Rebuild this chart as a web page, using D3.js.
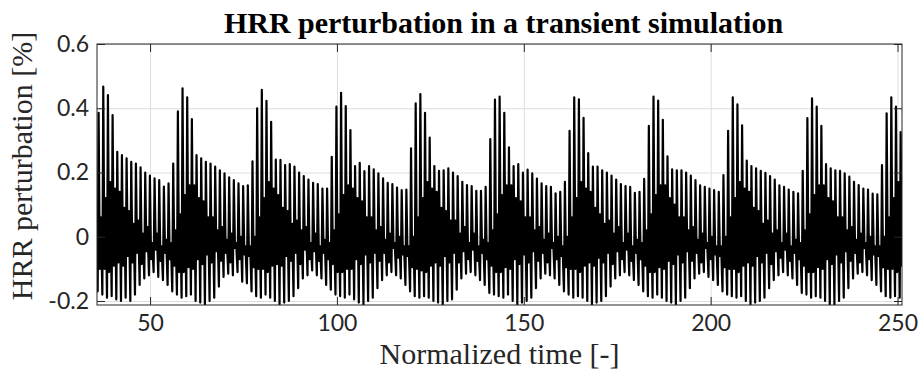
<!DOCTYPE html>
<html>
<head>
<meta charset="utf-8">
<script src="https://cdn.jsdelivr.net/npm/d3@7"></script>
<style>
  body { margin: 0; background: #fff; }
  svg { display: block; }
</style>
</head>
<body>
<svg id="chart" width="920" height="373"></svg>
<script>
// fast cycle timing (one entry per oscillation below)
const firstPeak = 36.23;
const cyclePeriod = 1.2477;
const startValue = 0.0;

// peak of every fast oscillation
const peakHi = [
  0.386,
  0.467, 0.441, 0.379, 0.264, 0.254, 0.244, 0.233, 0.228, 0.216, 0.200, 0.190, 0.182, 0.176, 0.156,
  0.166, 0.228, 0.390,
  0.462, 0.434, 0.366, 0.254, 0.244, 0.233, 0.228, 0.218, 0.207, 0.197, 0.185, 0.176, 0.166, 0.158,
  0.160, 0.235, 0.400,
  0.457, 0.423, 0.358, 0.240, 0.239, 0.223, 0.226, 0.218, 0.200, 0.189, 0.178, 0.168, 0.164, 0.150,
  0.150, 0.249, 0.405,
  0.448, 0.407, 0.332, 0.220, 0.230, 0.204, 0.220, 0.210, 0.197, 0.182, 0.168, 0.164, 0.153, 0.145,
  0.147, 0.275, 0.415,
  0.444, 0.386, 0.309, 0.220, 0.205, 0.207, 0.213, 0.200, 0.189, 0.171, 0.161, 0.158, 0.143, 0.143,
  0.155, 0.304, 0.427,
  0.436, 0.386, 0.278, 0.220, 0.226, 0.200, 0.209, 0.197, 0.181, 0.166, 0.158, 0.155, 0.135,
  0.140, 0.171, 0.330,
  0.434, 0.428, 0.370, 0.260, 0.218, 0.218, 0.207, 0.200, 0.190, 0.178, 0.164, 0.158, 0.155, 0.137,
  0.140, 0.180, 0.345,
  0.436, 0.424, 0.364, 0.250, 0.210, 0.207, 0.207, 0.200, 0.190, 0.176, 0.160, 0.155, 0.150, 0.145,
  0.140, 0.192, 0.330,
  0.434, 0.412, 0.347, 0.237, 0.220, 0.213, 0.205, 0.199, 0.189, 0.178, 0.160, 0.155, 0.147, 0.140,
  0.135, 0.205, 0.369,
  0.431, 0.405, 0.345, 0.226, 0.213, 0.207, 0.205, 0.197, 0.187, 0.171, 0.161, 0.150, 0.147, 0.134,
  0.132, 0.223, 0.384,
  0.434, 0.405, 0.326
];

// trough of every fast oscillation
const troughLo = [
  -0.17,
  -0.18, -0.19, -0.185, -0.195, -0.2, -0.19, -0.2, -0.18, -0.15, -0.13, -0.12, -0.11, -0.125, -0.135,
  -0.15, -0.17, -0.18,
  -0.19, -0.185, -0.18, -0.2, -0.205, -0.21, -0.2, -0.19, -0.155, -0.125, -0.115, -0.12, -0.11, -0.14,
  -0.145, -0.17, -0.185,
  -0.19, -0.18, -0.19, -0.2, -0.21, -0.205, -0.2, -0.185, -0.16, -0.13, -0.12, -0.105, -0.12, -0.13,
  -0.15, -0.165, -0.18,
  -0.185, -0.19, -0.18, -0.195, -0.205, -0.21, -0.2, -0.19, -0.16, -0.135, -0.12, -0.11, -0.12, -0.13,
  -0.15, -0.17, -0.185,
  -0.19, -0.185, -0.19, -0.2, -0.205, -0.21, -0.2, -0.195, -0.165, -0.13, -0.115, -0.11, -0.12, -0.135,
  -0.15, -0.175, -0.18,
  -0.185, -0.19, -0.18, -0.2, -0.21, -0.205, -0.2, -0.19, -0.16, -0.13, -0.115, -0.12, -0.13,
  -0.15, -0.17, -0.18,
  -0.19, -0.185, -0.19, -0.2, -0.21, -0.205, -0.2, -0.185, -0.155, -0.13, -0.12, -0.11, -0.12, -0.135,
  -0.15, -0.17, -0.185,
  -0.19, -0.18, -0.19, -0.2, -0.205, -0.21, -0.2, -0.19, -0.16, -0.13, -0.115, -0.11, -0.125, -0.135,
  -0.15, -0.17, -0.18,
  -0.185, -0.19, -0.185, -0.2, -0.21, -0.205, -0.2, -0.19, -0.16, -0.135, -0.12, -0.11, -0.12, -0.13,
  -0.15, -0.175, -0.18,
  -0.19, -0.185, -0.19, -0.2, -0.21, -0.21, -0.2, -0.19, -0.16, -0.13, -0.115, -0.11, -0.12, -0.135,
  -0.15, -0.17, -0.185,
  -0.19, -0.185, -0.19
];

// low and high of the dense inner wiggle in each oscillation
const bandLow = [
  -0.10,
  -0.10, -0.11, -0.09, -0.08, -0.09, -0.06, -0.08, -0.05, -0.085, -0.045, -0.07, -0.04, -0.075, -0.05,
  -0.07, -0.09, -0.11,
  -0.11, -0.095, -0.10, -0.07, -0.085, -0.055, -0.08, -0.045, -0.075, -0.05, -0.08, -0.035, -0.07, -0.055,
  -0.06, -0.095, -0.10,
  -0.10, -0.11, -0.09, -0.085, -0.09, -0.06, -0.075, -0.05, -0.085, -0.04, -0.07, -0.045, -0.075, -0.05,
  -0.07, -0.085, -0.11,
  -0.11, -0.10, -0.10, -0.07, -0.085, -0.055, -0.08, -0.05, -0.075, -0.05, -0.08, -0.035, -0.065, -0.055,
  -0.06, -0.095, -0.10,
  -0.105, -0.11, -0.09, -0.08, -0.09, -0.06, -0.08, -0.05, -0.08, -0.045, -0.07, -0.04, -0.075, -0.05,
  -0.07, -0.09, -0.11,
  -0.11, -0.095, -0.10, -0.07, -0.085, -0.055, -0.08, -0.045, -0.075, -0.05, -0.08, -0.035, -0.07,
  -0.06, -0.095, -0.10,
  -0.10, -0.11, -0.09, -0.08, -0.09, -0.065, -0.08, -0.05, -0.085, -0.045, -0.07, -0.04, -0.075, -0.05,
  -0.07, -0.09, -0.11,
  -0.11, -0.095, -0.10, -0.075, -0.085, -0.055, -0.08, -0.045, -0.075, -0.05, -0.08, -0.035, -0.07, -0.055,
  -0.06, -0.095, -0.10,
  -0.10, -0.11, -0.09, -0.08, -0.09, -0.06, -0.08, -0.05, -0.085, -0.045, -0.065, -0.04, -0.075, -0.05,
  -0.07, -0.09, -0.11,
  -0.11, -0.095, -0.10, -0.07, -0.085, -0.055, -0.08, -0.045, -0.075, -0.05, -0.08, -0.035, -0.07, -0.055,
  -0.06, -0.095, -0.10,
  -0.10, -0.11, -0.09
];
const bandHigh = [
  0.06,
  0.12, 0.17, 0.15, 0.14, 0.09, 0.08, 0.04, 0.05, 0.01, 0.03, -0.02, 0.01, -0.03, -0.01,
  -0.02, 0.02, 0.07,
  0.13, 0.16, 0.16, 0.12, 0.11, 0.06, 0.06, 0.02, 0.03, -0.01, 0.01, -0.02, 0.0, -0.03,
  -0.03, 0.0, 0.06,
  0.12, 0.17, 0.15, 0.13, 0.09, 0.08, 0.04, 0.05, 0.02, 0.03, -0.02, 0.01, -0.03, -0.01,
  -0.02, 0.02, 0.07,
  0.13, 0.16, 0.15, 0.12, 0.11, 0.06, 0.06, 0.02, 0.03, -0.01, 0.01, -0.02, 0.0, -0.03,
  -0.03, 0.0, 0.06,
  0.12, 0.17, 0.15, 0.14, 0.09, 0.08, 0.05, 0.05, 0.01, 0.03, -0.02, 0.01, -0.03, -0.01,
  -0.02, 0.02, 0.07,
  0.13, 0.16, 0.16, 0.12, 0.11, 0.06, 0.06, 0.02, 0.03, -0.01, 0.01, -0.02, 0.0,
  -0.03, 0.0, 0.06,
  0.12, 0.17, 0.15, 0.14, 0.09, 0.07, 0.04, 0.05, 0.01, 0.03, -0.02, 0.01, -0.03, -0.01,
  -0.02, 0.02, 0.07,
  0.13, 0.16, 0.16, 0.12, 0.10, 0.06, 0.06, 0.02, 0.03, -0.01, 0.01, -0.02, 0.0, -0.03,
  -0.03, 0.0, 0.06,
  0.12, 0.17, 0.15, 0.14, 0.09, 0.08, 0.04, 0.05, 0.01, 0.02, -0.02, 0.01, -0.03, -0.01,
  -0.02, 0.02, 0.07,
  0.13, 0.16, 0.16, 0.12, 0.11, 0.06, 0.06, 0.02, 0.03, -0.01, 0.01, -0.02, 0.0, -0.03,
  -0.03, 0.0, 0.06,
  0.12, 0.17, 0.15
];

const xTicks = [50, 100, 150, 200, 250];
const yTicks = [-0.2, 0, 0.2, 0.4, 0.6];
const yTickLabels = ["-0.2", "0", "0.2", "0.4", "0.6"];
const xRange = [35.8, 251.2];
const yRange = [-0.2125, 0.6];

const titleText = "HRR perturbation in a transient simulation";
const xLabel = "Normalized time [-]";
const yLabel = "HRR perturbation [%]";

// layout
const margin = {left: 97, top: 44, right: 18, bottom: 68};
const W = 920, H = 373;
const plotW = W - margin.left - margin.right;
const plotH = H - margin.top - margin.bottom;

const xScale = d3.scaleLinear().domain(xRange).range([0, plotW]);
const yScale = d3.scaleLinear().domain(yRange).range([plotH, 0]);

// build the series: each oscillation is trough -> peak -> inner low -> inner high
const series = [{t: xRange[0], v: startValue}];
peakHi.forEach((hi, k) => {
  const tp = firstPeak + k * cyclePeriod;
  series.push({t: tp - 0.2 * cyclePeriod, v: troughLo[k]});
  series.push({t: tp, v: hi});
  series.push({t: tp + 0.25 * cyclePeriod, v: bandLow[k]});
  series.push({t: tp + 0.5 * cyclePeriod, v: bandHigh[k]});
});

const svg = d3.select('#chart');
svg.append('rect').attr('width', W).attr('height', H).attr('fill', '#fff');

const g = svg.append('g').attr('transform', `translate(${margin.left},${margin.top})`);

g.append('defs').append('clipPath').attr('id', 'clip')
  .append('rect').attr('width', plotW).attr('height', plotH);

// grid
g.append('g')
  .attr('transform', `translate(0,${plotH})`)
  .call(d3.axisBottom(xScale).tickValues(xTicks).tickSize(-plotH).tickFormat(''))
  .call(a => a.select('.domain').remove())
  .selectAll('line').attr('class', 'grid').attr('stroke', '#dedede');
g.append('g')
  .call(d3.axisLeft(yScale).tickValues(yTicks).tickSize(-plotW).tickFormat(''))
  .call(a => a.select('.domain').remove())
  .selectAll('line').attr('class', 'grid').attr('stroke', '#dedede');

// signal
const line = d3.line().x(d => xScale(d.t)).y(d => yScale(d.v));
g.append('path')
  .datum(series)
  .attr('clip-path', 'url(#clip)')
  .attr('fill', 'none')
  .attr('stroke', '#000')
  .attr('stroke-width', 2.2)
  .attr('stroke-linejoin', 'round')
  .attr('d', line);

// axes with inward ticks on all four sides
const tickFont = 'Lato, "Open Sans", sans-serif';
const bottom = g.append('g')
  .attr('transform', `translate(0,${plotH})`)
  .call(d3.axisBottom(xScale).tickValues(xTicks).tickSizeInner(-8).tickSizeOuter(0).tickPadding(10));
const left = g.append('g')
  .call(d3.axisLeft(yScale).tickValues(yTicks).tickSizeInner(-8).tickSizeOuter(0).tickPadding(8)
    .tickFormat((d, i) => yTickLabels[i]));
g.append('g')
  .call(d3.axisTop(xScale).tickValues(xTicks).tickSizeInner(-8).tickSizeOuter(0).tickFormat(''));
g.append('g')
  .attr('transform', `translate(${plotW},0)`)
  .call(d3.axisRight(yScale).tickValues(yTicks).tickSizeInner(-8).tickSizeOuter(0).tickFormat(''));

g.selectAll('.domain').remove();
g.selectAll('.tick line:not(.grid)').attr('stroke', '#262626');
[bottom, left].forEach(a => a.selectAll('text')
  .attr('fill', '#262626')
  .style('font-family', tickFont)
  .style('font-size', '23px'));
bottom.selectAll('text').attr('dy', '0.71em');

g.append('rect')
  .attr('width', plotW).attr('height', plotH)
  .attr('fill', 'none').attr('stroke', '#262626').attr('stroke-width', 1);

// labels
const serif = '"Liberation Serif", "DejaVu Serif", serif';
svg.append('text')
  .attr('x', margin.left + plotW / 2 + 4).attr('y', 33)
  .attr('text-anchor', 'middle')
  .style('font-family', serif).style('font-weight', 'bold').style('font-size', '30px')
  .attr('fill', '#000')
  .text(titleText);
svg.append('text')
  .attr('x', margin.left + plotW / 2).attr('y', 364)
  .attr('text-anchor', 'middle')
  .style('font-family', serif).style('font-size', '30px')
  .attr('fill', '#262626')
  .text(xLabel);
svg.append('text')
  .attr('transform', 'translate(32,166) rotate(-90)')
  .attr('text-anchor', 'middle')
  .style('font-family', serif).style('font-size', '30px')
  .attr('fill', '#262626')
  .text(yLabel);
</script>
</body>
</html>
